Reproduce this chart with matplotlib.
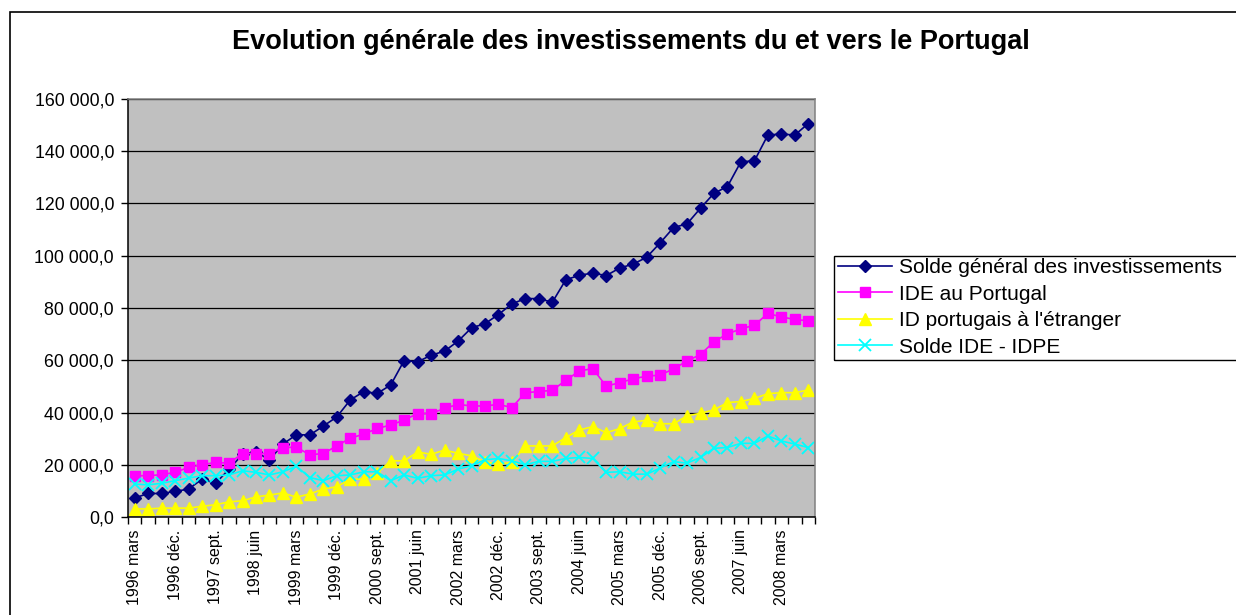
import matplotlib
matplotlib.use("Agg")
from matplotlib import pyplot as plt
from matplotlib.patches import Rectangle
from matplotlib.ticker import FixedLocator, FuncFormatter
import numpy as np

plt.rcParams['font.family'] = ['Liberation Sans', 'DejaVu Sans']

# quarterly categories, 1996 mars .. 2008 sept.
years = list(range(1996, 2009))
months = ['mars', 'juin', 'sept.', 'déc.']
categories = ['%d %s' % (y, m) for y in years for m in months][:51]

solde_general = [7300, 9000, 9000, 9800, 10700, 14500, 12900, 18300, 24000, 25000,
                 21800, 27900, 31500, 31400, 34800, 38300, 44800, 48000, 47300, 50500,
                 59900, 59400, 61900, 63500, 67300, 72400, 74000, 77500, 81600, 83600,
                 83600, 82200, 90800, 92500, 93400, 92400, 95300, 96800, 99400, 104900,
                 110800, 112200, 118200, 123900, 126500, 136000, 136300, 146200, 146600, 146200,
                 150600]
ide_portugal = [15800, 15800, 16200, 17100, 19000, 20000, 20900, 20600, 24300, 24300,
                24300, 26600, 26700, 23800, 24300, 27200, 30200, 31700, 33900, 35200,
                37100, 39600, 39600, 41600, 43100, 42500, 42500, 43100, 41900, 47600,
                48000, 48500, 52300, 55900, 56800, 50100, 51400, 52900, 53900, 54300,
                56700, 59700, 62200, 67100, 70100, 72000, 73400, 77900, 76600, 75600,
                75100]
id_etranger = [3100, 3100, 3400, 3400, 3400, 4100, 4700, 5800, 6200, 7700,
               8400, 9200, 7600, 8800, 10700, 11600, 14500, 14500, 16800, 21500,
               21500, 24900, 24000, 25600, 24400, 23400, 21100, 20200, 20900, 27200,
               27200, 27200, 30400, 33300, 34600, 32300, 33800, 36400, 37000, 35700,
               35700, 38700, 39700, 41000, 43800, 44200, 45400, 47200, 47600, 47600,
               48600]
solde_ide = [12600, 12300, 12900, 13900, 14900, 15800, 15800, 16100, 17700, 17100,
             16100, 17300, 19400, 15100, 13900, 15800, 16100, 17300, 17300, 13900,
             16100, 14800, 15800, 16100, 18300, 19700, 21900, 22400, 21500, 20000,
             21300, 21300, 22400, 22800, 22400, 17100, 17300, 16400, 16400, 18700,
             21200, 20600, 22800, 26300, 26600, 28200, 28200, 31000, 29100, 27900,
             26600]

series_labels = ['Solde général des investissements', 'IDE au Portugal',
                 "ID portugais à l'étranger", 'Solde IDE - IDPE']

W, H = 1236, 615
fig = plt.figure(figsize=(W / 100, H / 100), dpi=100)
fig.patch.set_facecolor('white')

# outer chart border (runs off the right and bottom of the picture)
fig.patches.append(Rectangle((10 / W, -0.1), 1.2, 1.1 - 11.5 / H, transform=fig.transFigure,
                             fill=False, edgecolor='black', lw=1.2, clip_on=False))

fig.text(0.5105, 1 - 42 / H, 'Evolution générale des investissements du et vers le Portugal',
         ha='center', va='center', fontsize=19.5, fontweight='bold')

ax = fig.add_axes([128 / W, 1 - 517 / H, (815 - 128) / W, (517 - 99) / H])
ax.set_facecolor('#C0C0C0')

x = np.arange(len(categories))
ax.plot(x, solde_general, color='#000080', marker='D', ms=6.5, lw=1.2, label=series_labels[0])
ax.plot(x, ide_portugal, color='#FF00FF', marker='s', ms=7, lw=1.2, label=series_labels[1])
ax.plot(x, id_etranger, color='#FFFF00', marker='^', ms=8.5, lw=1.2, label=series_labels[2])
ax.plot(x, solde_ide, color='#00FFFF', marker='x', ms=8, mew=1.3, lw=1.2, label=series_labels[3])

ax.set_xlim(-0.5, len(categories) - 0.5)
ax.set_ylim(0, 160000)

ax.yaxis.set_major_locator(FixedLocator(np.arange(0, 160001, 20000)))
ax.yaxis.set_major_formatter(FuncFormatter(
    lambda v, p: ('{:,.1f}'.format(v)).replace(',', ' ').replace('.', ',')))
ax.grid(axis='y', color='black', lw=0.9)
ax.set_axisbelow(True)

ax.set_xticks(x[::3])
ax.set_xticklabels(categories[::3], rotation=90, va='top', ha='center')
ax.set_xticks(np.arange(-0.5, len(categories)), minor=True)
ax.tick_params(axis='x', which='major', length=0, pad=9, labelsize=11.5)
ax.tick_params(axis='x', which='minor', length=5, width=1, direction='out')
ax.tick_params(axis='y', length=5, width=1, direction='out', pad=5, labelsize=12.8)

for side in ['top', 'right']:
    ax.spines[side].set_color('#808080')
for side in ['left', 'bottom']:
    ax.spines[side].set_color('black')
for s in ax.spines.values():
    s.set_linewidth(1.1)

# legend box (its right edge falls outside the picture)
fig.patches.append(Rectangle((834 / W, 1 - 360 / H), 420 / W, 104 / H, transform=fig.transFigure,
                             fill=False, edgecolor='black', lw=1.0, clip_on=False))
ax.legend(loc='upper left', bbox_to_anchor=(834 / W, 1 - 254 / H), bbox_transform=fig.transFigure,
          frameon=False, fontsize=15, handlelength=2.6, handletextpad=0.3,
          labelspacing=0.36, borderpad=0.2, borderaxespad=0)

fig.savefig('out.png', dpi=100)
